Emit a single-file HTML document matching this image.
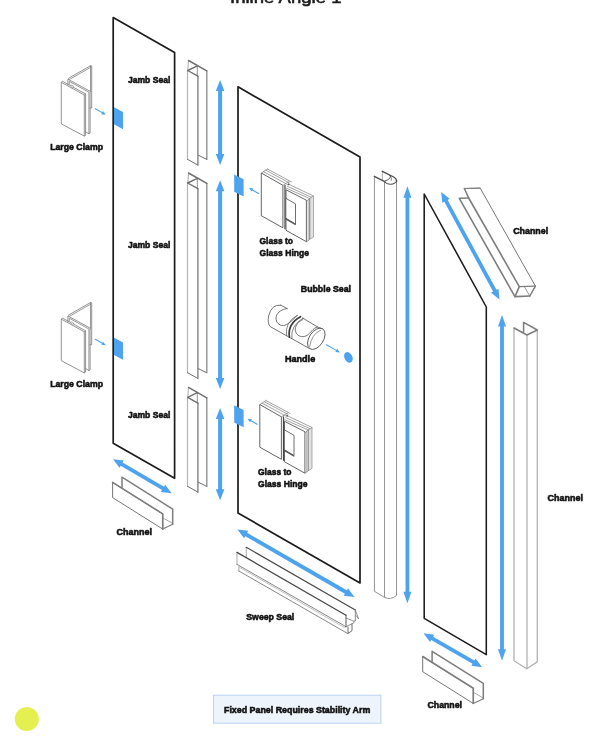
<!DOCTYPE html>
<html><head><meta charset="utf-8"><title>Inline Angle 1</title>
<style>
html,body{margin:0;padding:0;background:#fff;}
body{width:600px;height:736px;overflow:hidden;font-family:"Liberation Sans",sans-serif;}
svg{display:block;}
svg text{font-family:"Liberation Sans",sans-serif;}
</style></head><body>
<svg width="600" height="736" viewBox="0 0 600 736">
<rect width="600" height="736" fill="#fff"/>
<polygon points="113.20,17.50 174.60,52.50 174.60,478.30 113.20,443.30" fill="none" stroke="#1c1c1c" stroke-width="1.7" stroke-linejoin="round" />
<polygon points="238.00,86.80 360.00,157.00 360.00,583.00 238.00,513.00" fill="none" stroke="#1c1c1c" stroke-width="1.7" stroke-linejoin="round" />
<polygon points="424.20,194.00 486.30,307.00 486.30,654.70 424.20,618.30" fill="none" stroke="#1c1c1c" stroke-width="1.55" stroke-linejoin="round" />
<polygon points="114.00,107.20 123.00,112.00 123.00,129.20 114.00,124.30" fill="#4da3ee" stroke="none" stroke-width="1" stroke-linejoin="round" />
<polyline points="95.30,108.70 102.15,112.62" fill="none" stroke="#4da3ee" stroke-width="1.1" stroke-linejoin="round" stroke-linecap="round" />
<polygon points="105.80,114.70 101.26,114.18 103.05,111.05" fill="#4da3ee" stroke="none" stroke-width="1" stroke-linejoin="round" />
<polygon points="114.00,337.80 123.00,342.60 123.00,359.80 114.00,354.90" fill="#4da3ee" stroke="none" stroke-width="1" stroke-linejoin="round" />
<polyline points="95.30,339.30 102.15,343.22" fill="none" stroke="#4da3ee" stroke-width="1.1" stroke-linejoin="round" stroke-linecap="round" />
<polygon points="105.80,345.30 101.26,344.78 103.05,341.65" fill="#4da3ee" stroke="none" stroke-width="1" stroke-linejoin="round" />
<polygon points="234.20,174.50 243.60,179.20 243.60,196.40 234.20,191.80" fill="#4da3ee" stroke="none" stroke-width="1" stroke-linejoin="round" />
<polygon points="234.20,405.30 243.60,410.00 243.60,427.20 234.20,422.60" fill="#4da3ee" stroke="none" stroke-width="1" stroke-linejoin="round" />
<polyline points="258.50,193.50 252.44,190.00" fill="none" stroke="#4da3ee" stroke-width="1.1" stroke-linejoin="round" stroke-linecap="round" />
<polygon points="248.80,187.90 253.34,188.44 251.54,191.56" fill="#4da3ee" stroke="none" stroke-width="1" stroke-linejoin="round" />
<polyline points="257.10,424.30 251.04,420.80" fill="none" stroke="#4da3ee" stroke-width="1.1" stroke-linejoin="round" stroke-linecap="round" />
<polygon points="247.40,418.70 251.94,419.24 250.14,422.36" fill="#4da3ee" stroke="none" stroke-width="1" stroke-linejoin="round" />
<polyline points="68.40,78.40 90.60,65.70 91.70,65.90 91.70,108.00 89.80,108.00" fill="none" stroke="#7f7f7f" stroke-width="0.85" stroke-linejoin="round" stroke-linecap="round" />
<polyline points="69.60,79.40 90.50,67.40" fill="none" stroke="#7f7f7f" stroke-width="0.8" stroke-linejoin="round" stroke-linecap="round" />
<polyline points="90.50,65.90 90.50,91.60" fill="none" stroke="#7f7f7f" stroke-width="0.8" stroke-linejoin="round" stroke-linecap="round" />
<polyline points="67.90,85.00 67.90,79.20 90.10,91.30 90.10,133.10 88.90,133.70 85.60,131.80" fill="none" stroke="#7f7f7f" stroke-width="0.85" stroke-linejoin="round" stroke-linecap="round" />
<polyline points="69.30,84.00 69.30,81.40 88.90,92.20 88.90,133.50" fill="none" stroke="#7f7f7f" stroke-width="0.8" stroke-linejoin="round" stroke-linecap="round" />
<polygon points="61.30,82.30 84.30,95.00 84.30,136.10 61.30,123.90" fill="#fff" stroke="#7f7f7f" stroke-width="0.85" stroke-linejoin="round" />
<polyline points="61.30,82.30 62.50,81.30 85.60,94.00 85.60,135.30 84.30,136.10" fill="none" stroke="#7f7f7f" stroke-width="0.85" stroke-linejoin="round" stroke-linecap="round" />
<polyline points="84.30,95.00 85.60,94.00" fill="none" stroke="#7f7f7f" stroke-width="0.7" stroke-linejoin="round" stroke-linecap="round" />
<ellipse cx="72.0" cy="86.2" rx="1.9" ry="0.8" transform="rotate(28 72.0 86.2)" fill="#fff" stroke="#7f7f7f" stroke-width="0.6"/>
<polyline points="68.40,315.20 90.60,302.50 91.70,302.70 91.70,344.80 89.80,344.80" fill="none" stroke="#7f7f7f" stroke-width="0.85" stroke-linejoin="round" stroke-linecap="round" />
<polyline points="69.60,316.20 90.50,304.20" fill="none" stroke="#7f7f7f" stroke-width="0.8" stroke-linejoin="round" stroke-linecap="round" />
<polyline points="90.50,302.70 90.50,328.40" fill="none" stroke="#7f7f7f" stroke-width="0.8" stroke-linejoin="round" stroke-linecap="round" />
<polyline points="67.90,321.80 67.90,316.00 90.10,328.10 90.10,369.90 88.90,370.50 85.60,368.60" fill="none" stroke="#7f7f7f" stroke-width="0.85" stroke-linejoin="round" stroke-linecap="round" />
<polyline points="69.30,320.80 69.30,318.20 88.90,329.00 88.90,370.30" fill="none" stroke="#7f7f7f" stroke-width="0.8" stroke-linejoin="round" stroke-linecap="round" />
<polygon points="61.30,319.10 84.30,331.80 84.30,372.90 61.30,360.70" fill="#fff" stroke="#7f7f7f" stroke-width="0.85" stroke-linejoin="round" />
<polyline points="61.30,319.10 62.50,318.10 85.60,330.80 85.60,372.10 84.30,372.90" fill="none" stroke="#7f7f7f" stroke-width="0.85" stroke-linejoin="round" stroke-linecap="round" />
<polyline points="84.30,331.80 85.60,330.80" fill="none" stroke="#7f7f7f" stroke-width="0.7" stroke-linejoin="round" stroke-linecap="round" />
<ellipse cx="72.0" cy="323.0" rx="1.9" ry="0.8" transform="rotate(28 72.0 323.0)" fill="#fff" stroke="#7f7f7f" stroke-width="0.6"/>
<polyline points="188.50,60.60 187.80,70.60" fill="none" stroke="#b4b4b4" stroke-width="1.1" stroke-linejoin="round" stroke-linecap="round" />
<polyline points="187.50,70.60 187.50,159.30" fill="none" stroke="#b4b4b4" stroke-width="1.2" stroke-linejoin="round" stroke-linecap="round" />
<polyline points="197.30,65.80 197.30,76.20" fill="none" stroke="#939393" stroke-width="1.0" stroke-linejoin="round" stroke-linecap="round" />
<polyline points="197.90,76.20 197.90,164.90" fill="none" stroke="#939393" stroke-width="1.6" stroke-linejoin="round" stroke-linecap="round" />
<polyline points="206.80,71.00 206.80,159.20" fill="none" stroke="#939393" stroke-width="1.4" stroke-linejoin="round" stroke-linecap="round" />
<polyline points="188.50,60.50 206.80,70.90" fill="none" stroke="#707070" stroke-width="1.5" stroke-linejoin="round" stroke-linecap="round" />
<polyline points="187.70,70.50 197.30,65.80" fill="none" stroke="#707070" stroke-width="1.4" stroke-linejoin="round" stroke-linecap="round" />
<polyline points="187.70,70.50 197.90,76.20" fill="none" stroke="#707070" stroke-width="1.4" stroke-linejoin="round" stroke-linecap="round" />
<polyline points="187.50,159.30 197.90,165.10" fill="none" stroke="#707070" stroke-width="1.0" stroke-linejoin="round" stroke-linecap="round" />
<polyline points="198.30,155.20 206.80,159.40" fill="none" stroke="#707070" stroke-width="1.0" stroke-linejoin="round" stroke-linecap="round" />
<polyline points="188.50,173.10 187.80,183.10" fill="none" stroke="#b4b4b4" stroke-width="1.1" stroke-linejoin="round" stroke-linecap="round" />
<polyline points="187.50,183.10 187.50,372.70" fill="none" stroke="#b4b4b4" stroke-width="1.2" stroke-linejoin="round" stroke-linecap="round" />
<polyline points="197.30,178.30 197.30,188.70" fill="none" stroke="#939393" stroke-width="1.0" stroke-linejoin="round" stroke-linecap="round" />
<polyline points="197.90,188.70 197.90,378.30" fill="none" stroke="#939393" stroke-width="1.6" stroke-linejoin="round" stroke-linecap="round" />
<polyline points="206.80,183.50 206.80,372.60" fill="none" stroke="#939393" stroke-width="1.4" stroke-linejoin="round" stroke-linecap="round" />
<polyline points="188.50,173.00 206.80,183.40" fill="none" stroke="#707070" stroke-width="1.5" stroke-linejoin="round" stroke-linecap="round" />
<polyline points="187.70,183.00 197.30,178.30" fill="none" stroke="#707070" stroke-width="1.4" stroke-linejoin="round" stroke-linecap="round" />
<polyline points="187.70,183.00 197.90,188.70" fill="none" stroke="#707070" stroke-width="1.4" stroke-linejoin="round" stroke-linecap="round" />
<polyline points="187.50,372.70 197.90,378.50" fill="none" stroke="#707070" stroke-width="1.0" stroke-linejoin="round" stroke-linecap="round" />
<polyline points="198.30,368.60 206.80,372.80" fill="none" stroke="#707070" stroke-width="1.0" stroke-linejoin="round" stroke-linecap="round" />
<polyline points="188.50,387.50 187.80,397.50" fill="none" stroke="#b4b4b4" stroke-width="1.1" stroke-linejoin="round" stroke-linecap="round" />
<polyline points="187.50,397.50 187.50,486.30" fill="none" stroke="#b4b4b4" stroke-width="1.2" stroke-linejoin="round" stroke-linecap="round" />
<polyline points="197.30,392.70 197.30,403.10" fill="none" stroke="#939393" stroke-width="1.0" stroke-linejoin="round" stroke-linecap="round" />
<polyline points="197.90,403.10 197.90,491.90" fill="none" stroke="#939393" stroke-width="1.6" stroke-linejoin="round" stroke-linecap="round" />
<polyline points="206.80,397.90 206.80,486.20" fill="none" stroke="#939393" stroke-width="1.4" stroke-linejoin="round" stroke-linecap="round" />
<polyline points="188.50,387.40 206.80,397.80" fill="none" stroke="#707070" stroke-width="1.5" stroke-linejoin="round" stroke-linecap="round" />
<polyline points="187.70,397.40 197.30,392.70" fill="none" stroke="#707070" stroke-width="1.4" stroke-linejoin="round" stroke-linecap="round" />
<polyline points="187.70,397.40 197.90,403.10" fill="none" stroke="#707070" stroke-width="1.4" stroke-linejoin="round" stroke-linecap="round" />
<polyline points="187.50,486.30 197.90,492.10" fill="none" stroke="#707070" stroke-width="1.0" stroke-linejoin="round" stroke-linecap="round" />
<polyline points="198.30,482.20 206.80,486.40" fill="none" stroke="#707070" stroke-width="1.0" stroke-linejoin="round" stroke-linecap="round" />
<polygon points="220.10,80.00 215.80,91.00 218.10,91.00 218.10,154.00 215.80,154.00 220.10,165.00 224.40,154.00 222.10,154.00 222.10,91.00 224.40,91.00" fill="#4da3ee" stroke="none" stroke-width="1" stroke-linejoin="round" />
<polygon points="220.10,180.30 215.80,191.30 218.10,191.30 218.10,378.10 215.80,378.10 220.10,389.10 224.40,378.10 222.10,378.10 222.10,191.30 224.40,191.30" fill="#4da3ee" stroke="none" stroke-width="1" stroke-linejoin="round" />
<polygon points="220.10,408.00 215.80,419.00 218.10,419.00 218.10,489.20 215.80,489.20 220.10,500.20 224.40,489.20 222.10,489.20 222.10,419.00 224.40,419.00" fill="#4da3ee" stroke="none" stroke-width="1" stroke-linejoin="round" />
<polyline points="122.00,487.40 122.00,477.20 172.70,509.06 172.70,524.26" fill="none" stroke="#7d7d7d" stroke-width="1.5" stroke-linejoin="round" stroke-linecap="round" />
<polyline points="162.70,529.06 172.70,524.26" fill="none" stroke="#7d7d7d" stroke-width="1.2" stroke-linejoin="round" stroke-linecap="round" />
<polyline points="163.50,518.26 172.30,523.36" fill="none" stroke="#7d7d7d" stroke-width="0.7" stroke-linejoin="round" stroke-linecap="round" />
<polygon points="112.60,482.40 162.70,513.86 162.70,529.06 112.60,497.60" fill="#fff" stroke="#4a4a4a" stroke-width="0.75" stroke-linejoin="round" />
<polyline points="112.60,482.40 162.70,513.86 162.70,529.06" fill="none" stroke="#7d7d7d" stroke-width="1.6" stroke-linejoin="round" stroke-linecap="round" />
<polyline points="432.10,661.50 432.10,651.30 483.30,683.48 483.30,698.68" fill="none" stroke="#7d7d7d" stroke-width="1.5" stroke-linejoin="round" stroke-linecap="round" />
<polyline points="473.30,703.48 483.30,698.68" fill="none" stroke="#7d7d7d" stroke-width="1.2" stroke-linejoin="round" stroke-linecap="round" />
<polyline points="474.10,692.68 482.90,697.78" fill="none" stroke="#7d7d7d" stroke-width="0.7" stroke-linejoin="round" stroke-linecap="round" />
<polygon points="422.70,656.50 473.30,688.28 473.30,703.48 422.70,671.70" fill="#fff" stroke="#4a4a4a" stroke-width="0.75" stroke-linejoin="round" />
<polyline points="422.70,656.50 473.30,688.28 473.30,703.48" fill="none" stroke="#7d7d7d" stroke-width="1.6" stroke-linejoin="round" stroke-linecap="round" />
<polygon points="113.00,459.20 119.54,467.85 120.69,465.87 162.10,489.92 160.94,491.91 171.70,493.30 165.16,484.65 164.01,486.63 122.60,462.58 123.76,460.59" fill="#4da3ee" stroke="none" stroke-width="1" stroke-linejoin="round" />
<polygon points="423.50,633.30 430.05,641.94 431.20,639.95 472.49,663.84 471.34,665.83 482.10,667.20 475.55,658.56 474.40,660.55 433.11,636.66 434.26,634.67" fill="#4da3ee" stroke="none" stroke-width="1" stroke-linejoin="round" />
<polyline points="246.30,557.60 246.30,547.30" fill="none" stroke="#b0b0b0" stroke-width="1.1" stroke-linejoin="round" stroke-linecap="round" />
<polyline points="246.30,547.30 355.30,610.00" fill="none" stroke="#484848" stroke-width="1.2" stroke-linejoin="round" stroke-linecap="round" />
<polyline points="355.30,610.00 355.30,620.70" fill="none" stroke="#7a7a7a" stroke-width="0.9" stroke-linejoin="round" stroke-linecap="round" />
<polyline points="355.30,610.00 358.70,619.00 356.20,615.60" fill="none" stroke="#7a7a7a" stroke-width="0.8" stroke-linejoin="round" stroke-linecap="round" />
<polygon points="237.00,552.40 346.00,615.30 346.00,626.70 237.00,564.40" fill="#fff" stroke="none" stroke-width="1" stroke-linejoin="round" />
<polyline points="237.00,552.40 237.00,564.40" fill="none" stroke="#b0b0b0" stroke-width="1.1" stroke-linejoin="round" stroke-linecap="round" />
<polyline points="237.00,564.40 346.00,626.70" fill="none" stroke="#7a7a7a" stroke-width="0.9" stroke-linejoin="round" stroke-linecap="round" />
<polyline points="346.00,615.30 346.00,626.70" fill="none" stroke="#484848" stroke-width="0.9" stroke-linejoin="round" stroke-linecap="round" />
<polyline points="237.00,552.40 346.00,615.30" fill="none" stroke="#484848" stroke-width="1.3" stroke-linejoin="round" stroke-linecap="round" />
<polyline points="346.00,618.00 354.00,621.30 355.30,620.70" fill="none" stroke="#7a7a7a" stroke-width="0.8" stroke-linejoin="round" stroke-linecap="round" />
<polyline points="346.00,626.70 354.00,622.70 354.00,621.30" fill="none" stroke="#7a7a7a" stroke-width="0.8" stroke-linejoin="round" stroke-linecap="round" />
<polyline points="238.90,565.60 238.90,571.00" fill="none" stroke="#b0b0b0" stroke-width="1.1" stroke-linejoin="round" stroke-linecap="round" />
<polyline points="238.90,571.00 347.60,633.50" fill="none" stroke="#7a7a7a" stroke-width="0.9" stroke-linejoin="round" stroke-linecap="round" />
<polyline points="239.50,567.30 344.50,627.60" fill="none" stroke="#b0b0b0" stroke-width="0.8" stroke-linejoin="round" stroke-linecap="round" />
<polyline points="348.00,626.90 348.00,633.40 352.00,630.70 352.00,624.00" fill="none" stroke="#484848" stroke-width="0.8" stroke-linejoin="round" stroke-linecap="round" />
<polygon points="237.50,529.50 244.06,538.14 245.21,536.14 344.89,593.65 343.74,595.64 354.50,597.00 347.94,588.36 346.79,590.36 247.11,532.85 248.26,530.86" fill="#4da3ee" stroke="none" stroke-width="1" stroke-linejoin="round" />
<path d="M374.4,176.3 L374.4,591.3 L384.5,597.3" fill="none" stroke="#949494" stroke-width="1.0" stroke-linejoin="round" stroke-linecap="round"/>
<path d="M384.5,181.7 L384.5,597.3 Q390.5,600.4 396.5,595.5 L396.5,180.8" fill="none" stroke="#949494" stroke-width="1.0" stroke-linejoin="round" stroke-linecap="round"/>
<path d="M382.3,171.5 L382.3,179.9" fill="none" stroke="#aaaaaa" stroke-width="1.0" stroke-linejoin="round" stroke-linecap="round"/>
<path d="M374.3,176.3 L384.7,181.7" fill="none" stroke="#4c4c4c" stroke-width="1.3" stroke-linejoin="round" stroke-linecap="round"/>
<path d="M382.3,171.3 L393.7,177 Q396.5,178.4 396.6,181.2" fill="none" stroke="#4c4c4c" stroke-width="1.3" stroke-linejoin="round" stroke-linecap="round"/>
<path d="M384.7,181.7 Q386.6,184.4 390.6,184.2 Q395.6,183.8 396.6,180.8" fill="none" stroke="#4c4c4c" stroke-width="1.1" stroke-linejoin="round" stroke-linecap="round"/>
<path d="M384.9,181.0 Q389.2,180.2 390.4,177.0 Q390.8,175.9 390.2,175.4" fill="none" stroke="#4c4c4c" stroke-width="0.9" stroke-linejoin="round" stroke-linecap="round"/>
<path d="M389.6,175.2 Q392.2,177.6 391.4,180.4" fill="none" stroke="#4c4c4c" stroke-width="0.7" stroke-linejoin="round" stroke-linecap="round"/>
<polygon points="407.40,186.20 403.40,197.70 405.50,197.70 405.50,591.80 403.40,591.80 407.40,603.30 411.40,591.80 409.30,591.80 409.30,197.70 411.40,197.70" fill="#4da3ee" stroke="none" stroke-width="1" stroke-linejoin="round" />
<polygon points="441.20,192.00 442.28,202.79 444.30,201.70 493.06,291.62 491.04,292.71 499.50,299.50 498.42,288.71 496.40,289.80 447.64,199.88 449.66,198.79" fill="#4da3ee" stroke="none" stroke-width="1" stroke-linejoin="round" />
<polygon points="502.00,315.00 498.00,326.50 500.10,326.50 500.10,649.30 498.00,649.30 502.00,660.80 506.00,649.30 503.90,649.30 503.90,326.50 506.00,326.50" fill="#4da3ee" stroke="none" stroke-width="1" stroke-linejoin="round" />
<polyline points="464.40,188.50 480.20,188.10 535.40,286.10 529.80,296.00" fill="none" stroke="#4a4a4a" stroke-width="0.75" stroke-linejoin="round" stroke-linecap="round" />
<polyline points="464.40,188.50 480.20,188.10" fill="none" stroke="#7d7d7d" stroke-width="0.9" stroke-linejoin="round" stroke-linecap="round" />
<polyline points="519.30,286.60 535.40,286.10" fill="none" stroke="#7d7d7d" stroke-width="1.3" stroke-linejoin="round" stroke-linecap="round" />
<polyline points="524.70,287.30 529.80,296.00" fill="none" stroke="#7d7d7d" stroke-width="0.8" stroke-linejoin="round" stroke-linecap="round" />
<polyline points="464.40,188.50 468.70,198.00 519.30,286.60 514.90,296.60" fill="none" stroke="#7d7d7d" stroke-width="1.6" stroke-linejoin="round" stroke-linecap="round" />
<polyline points="468.70,198.00 459.30,198.30 514.90,296.60 529.80,296.00" fill="none" stroke="#7d7d7d" stroke-width="1.6" stroke-linejoin="round" stroke-linecap="round" />
<polyline points="535.40,286.10 529.80,296.00" fill="none" stroke="#7d7d7d" stroke-width="1.3" stroke-linejoin="round" stroke-linecap="round" />
<polyline points="514.00,328.00 514.00,660.80 526.70,668.80 537.30,661.90 537.30,330.00" fill="none" stroke="#b2b2b2" stroke-width="1.3" stroke-linejoin="round" stroke-linecap="round" />
<polyline points="527.00,335.00 527.00,668.60" fill="none" stroke="#b2b2b2" stroke-width="1.3" stroke-linejoin="round" stroke-linecap="round" />
<polyline points="514.00,328.00 527.00,335.00 537.30,330.00 523.60,322.40 523.60,333.00" fill="none" stroke="#7d7d7d" stroke-width="1.5" stroke-linejoin="round" stroke-linecap="round" />
<polyline points="267.50,169.00 291.40,181.90" fill="none" stroke="#7d7d7d" stroke-width="0.7" stroke-linejoin="round" stroke-linecap="round" />
<polyline points="265.70,170.10 289.60,183.00" fill="none" stroke="#7d7d7d" stroke-width="0.7" stroke-linejoin="round" stroke-linecap="round" />
<polyline points="263.50,171.60 287.40,184.50" fill="none" stroke="#7d7d7d" stroke-width="0.7" stroke-linejoin="round" stroke-linecap="round" />
<polyline points="261.30,173.20 267.50,169.00" fill="none" stroke="#7d7d7d" stroke-width="0.7" stroke-linejoin="round" stroke-linecap="round" />
<polyline points="282.90,185.30 289.00,181.60" fill="none" stroke="#7d7d7d" stroke-width="0.7" stroke-linejoin="round" stroke-linecap="round" />
<polygon points="309.70,198.30 313.50,196.00 313.50,237.00 309.70,239.30" fill="#e2e2e2" stroke="#7d7d7d" stroke-width="0.6" stroke-linejoin="round" />
<polyline points="306.60,201.20 309.70,198.30 309.70,239.30 306.60,241.60" fill="none" stroke="#7d7d7d" stroke-width="0.7" stroke-linejoin="round" stroke-linecap="round" />
<polyline points="308.20,199.80 308.20,240.40" fill="none" stroke="#7d7d7d" stroke-width="0.6" stroke-linejoin="round" stroke-linecap="round" />
<polyline points="288.30,184.00 313.50,196.00" fill="none" stroke="#7d7d7d" stroke-width="0.7" stroke-linejoin="round" stroke-linecap="round" />
<polyline points="287.30,186.20 311.60,197.30" fill="none" stroke="#7d7d7d" stroke-width="0.7" stroke-linejoin="round" stroke-linecap="round" />
<polyline points="286.30,188.20 309.70,198.50" fill="none" stroke="#7d7d7d" stroke-width="0.7" stroke-linejoin="round" stroke-linecap="round" />
<polygon points="261.30,173.00 282.90,185.30 282.90,227.80 261.30,215.70" fill="#fff" stroke="#4a4a4a" stroke-width="0.85" stroke-linejoin="round" />
<polyline points="285.00,185.40 285.00,228.80" fill="none" stroke="#444" stroke-width="1.2" stroke-linejoin="round" stroke-linecap="round" />
<polygon points="286.00,189.80 306.40,200.20 306.40,241.70 286.00,230.30" fill="#fff" stroke="#4a4a4a" stroke-width="0.85" stroke-linejoin="round" />
<polygon points="285.80,198.30 295.50,203.80 295.50,224.00 285.80,218.20" fill="#fff" stroke="#4a4a4a" stroke-width="0.8" stroke-linejoin="round" />
<polyline points="285.80,218.90 295.30,224.50" fill="none" stroke="#555" stroke-width="1.3" stroke-linejoin="round" stroke-linecap="round" />
<circle cx="288.6" cy="184.3" r="0.9" fill="#555"/>
<polyline points="266.00,400.50 289.90,413.40" fill="none" stroke="#7d7d7d" stroke-width="0.7" stroke-linejoin="round" stroke-linecap="round" />
<polyline points="264.20,401.60 288.10,414.50" fill="none" stroke="#7d7d7d" stroke-width="0.7" stroke-linejoin="round" stroke-linecap="round" />
<polyline points="262.00,403.10 285.90,416.00" fill="none" stroke="#7d7d7d" stroke-width="0.7" stroke-linejoin="round" stroke-linecap="round" />
<polyline points="259.80,404.70 266.00,400.50" fill="none" stroke="#7d7d7d" stroke-width="0.7" stroke-linejoin="round" stroke-linecap="round" />
<polyline points="281.40,416.80 287.50,413.10" fill="none" stroke="#7d7d7d" stroke-width="0.7" stroke-linejoin="round" stroke-linecap="round" />
<polygon points="308.20,429.80 312.00,427.50 312.00,468.50 308.20,470.80" fill="#e2e2e2" stroke="#7d7d7d" stroke-width="0.6" stroke-linejoin="round" />
<polyline points="305.10,432.70 308.20,429.80 308.20,470.80 305.10,473.10" fill="none" stroke="#7d7d7d" stroke-width="0.7" stroke-linejoin="round" stroke-linecap="round" />
<polyline points="306.70,431.30 306.70,471.90" fill="none" stroke="#7d7d7d" stroke-width="0.6" stroke-linejoin="round" stroke-linecap="round" />
<polyline points="286.80,415.50 312.00,427.50" fill="none" stroke="#7d7d7d" stroke-width="0.7" stroke-linejoin="round" stroke-linecap="round" />
<polyline points="285.80,417.70 310.10,428.80" fill="none" stroke="#7d7d7d" stroke-width="0.7" stroke-linejoin="round" stroke-linecap="round" />
<polyline points="284.80,419.70 308.20,430.00" fill="none" stroke="#7d7d7d" stroke-width="0.7" stroke-linejoin="round" stroke-linecap="round" />
<polygon points="259.80,404.50 281.40,416.80 281.40,459.30 259.80,447.20" fill="#fff" stroke="#4a4a4a" stroke-width="0.85" stroke-linejoin="round" />
<polyline points="283.50,416.90 283.50,460.30" fill="none" stroke="#444" stroke-width="1.2" stroke-linejoin="round" stroke-linecap="round" />
<polygon points="284.50,421.30 304.90,431.70 304.90,473.20 284.50,461.80" fill="#fff" stroke="#4a4a4a" stroke-width="0.85" stroke-linejoin="round" />
<polygon points="284.30,429.80 294.00,435.30 294.00,455.50 284.30,449.70" fill="#fff" stroke="#4a4a4a" stroke-width="0.8" stroke-linejoin="round" />
<polyline points="284.30,450.40 293.80,456.00" fill="none" stroke="#555" stroke-width="1.3" stroke-linejoin="round" stroke-linecap="round" />
<circle cx="287.1" cy="415.8" r="0.9" fill="#555"/>
<path d="M280.7,305.2 Q271.5,304 268.6,316 Q267.2,323 270.2,326.6 L309.8,348.7" fill="none" stroke="#505050" stroke-width="0.8" stroke-linejoin="round" stroke-linecap="round"/>
<path d="M280.7,305.2 L287.1,308.5" fill="none" stroke="#505050" stroke-width="0.8" stroke-linejoin="round" stroke-linecap="round"/>
<path d="M302.3,317.8 L318,327.2 L322.7,328.9" fill="none" stroke="#505050" stroke-width="0.8" stroke-linejoin="round" stroke-linecap="round"/>
<path d="M287.1,308.5 C282.3,309.2 277.6,311.8 276.3,316.2 C275.2,321 277.8,324.6 281.6,325.4 C286.2,326.2 290.2,322.6 297.3,315.4" fill="none" stroke="#505050" stroke-width="0.8" stroke-linejoin="round" stroke-linecap="round"/>
<path d="M302.8,319.6 C298.5,321.6 295.6,325 295.3,329 C295.2,333.2 297.8,336 301.5,336.6 C306,337.2 309.2,334 311.6,331 C313.6,328.8 315.2,327.6 317.4,327.0" fill="none" stroke="#505050" stroke-width="0.8" stroke-linejoin="round" stroke-linecap="round"/>
<path d="M297.2,315.3 Q284.3,322.5 286.6,335.6" fill="none" stroke="#505050" stroke-width="0.7" stroke-linejoin="round" stroke-linecap="round"/>
<path d="M300.5,316.7 Q287.4,323.8 289.4,337.1" fill="none" stroke="#3a3a3a" stroke-width="1.7" stroke-linejoin="round" stroke-linecap="round"/>
<path d="M303.0,318.2 Q290.3,325.6 291.8,338.5" fill="none" stroke="#505050" stroke-width="0.7" stroke-linejoin="round" stroke-linecap="round"/>
<ellipse cx="316.3" cy="338.8" rx="11.8" ry="7.1" transform="rotate(-57 316.3 338.8)" fill="#fff" stroke="#505050" stroke-width="0.85"/>
<path d="M320.6,330.2 Q311.5,334 309.6,346.8" fill="none" stroke="#505050" stroke-width="0.6" stroke-linejoin="round" stroke-linecap="round"/>
<polyline points="326.50,344.70 336.27,350.39" fill="none" stroke="#4da3ee" stroke-width="1.1" stroke-linejoin="round" stroke-linecap="round" />
<polygon points="339.90,352.50 335.36,351.94 337.18,348.83" fill="#4da3ee" stroke="none" stroke-width="1" stroke-linejoin="round" />
<ellipse cx="348.4" cy="357.4" rx="3.9" ry="5.6" transform="rotate(-28 348.4 357.4)" fill="#4da3ee"/>
<rect x="213.5" y="695.2" width="167.4" height="28" fill="#eef4fc" stroke="#b9d3f1" stroke-width="1"/>
<g style="filter:grayscale(1)">
<text x="230.0" y="3.0" font-size="16.5" font-weight="normal" text-anchor="start" fill="#1a1a1a" stroke="#1a1a1a" stroke-width="0.55" stroke-linejoin="round" textLength="111.5" lengthAdjust="spacingAndGlyphs">Inline Angle 1</text>
<text x="50.2" y="150.3" font-size="9.9" font-weight="bold" text-anchor="start" fill="#111" stroke="#111" stroke-width="0.6" stroke-linejoin="round" textLength="52.8" lengthAdjust="spacingAndGlyphs">Large Clamp</text>
<text x="50.2" y="386.8" font-size="9.9" font-weight="bold" text-anchor="start" fill="#111" stroke="#111" stroke-width="0.6" stroke-linejoin="round" textLength="52.8" lengthAdjust="spacingAndGlyphs">Large Clamp</text>
<text x="128.0" y="82.5" font-size="9.9" font-weight="bold" text-anchor="start" fill="#111" stroke="#111" stroke-width="0.6" stroke-linejoin="round" textLength="42.3" lengthAdjust="spacingAndGlyphs">Jamb Seal</text>
<text x="128.0" y="248.3" font-size="9.9" font-weight="bold" text-anchor="start" fill="#111" stroke="#111" stroke-width="0.6" stroke-linejoin="round" textLength="42.3" lengthAdjust="spacingAndGlyphs">Jamb Seal</text>
<text x="128.0" y="418.3" font-size="9.9" font-weight="bold" text-anchor="start" fill="#111" stroke="#111" stroke-width="0.6" stroke-linejoin="round" textLength="42.3" lengthAdjust="spacingAndGlyphs">Jamb Seal</text>
<text x="116.6" y="534.6" font-size="9.9" font-weight="bold" text-anchor="start" fill="#111" stroke="#111" stroke-width="0.6" stroke-linejoin="round" textLength="35.4" lengthAdjust="spacingAndGlyphs">Channel</text>
<text x="259.5" y="244.3" font-size="9.9" font-weight="bold" text-anchor="start" fill="#111" stroke="#111" stroke-width="0.6" stroke-linejoin="round" textLength="33.5" lengthAdjust="spacingAndGlyphs">Glass to</text>
<text x="259.5" y="256.0" font-size="9.9" font-weight="bold" text-anchor="start" fill="#111" stroke="#111" stroke-width="0.6" stroke-linejoin="round" textLength="49.5" lengthAdjust="spacingAndGlyphs">Glass Hinge</text>
<text x="258.0" y="475.3" font-size="9.9" font-weight="bold" text-anchor="start" fill="#111" stroke="#111" stroke-width="0.6" stroke-linejoin="round" textLength="33.5" lengthAdjust="spacingAndGlyphs">Glass to</text>
<text x="258.0" y="487.0" font-size="9.9" font-weight="bold" text-anchor="start" fill="#111" stroke="#111" stroke-width="0.6" stroke-linejoin="round" textLength="49.5" lengthAdjust="spacingAndGlyphs">Glass Hinge</text>
<text x="300.8" y="291.5" font-size="9.9" font-weight="bold" text-anchor="start" fill="#111" stroke="#111" stroke-width="0.6" stroke-linejoin="round" textLength="50.2" lengthAdjust="spacingAndGlyphs">Bubble Seal</text>
<text x="284.9" y="362.2" font-size="9.9" font-weight="bold" text-anchor="start" fill="#111" stroke="#111" stroke-width="0.6" stroke-linejoin="round" textLength="30.3" lengthAdjust="spacingAndGlyphs">Handle</text>
<text x="246.3" y="619.8" font-size="9.9" font-weight="bold" text-anchor="start" fill="#111" stroke="#111" stroke-width="0.6" stroke-linejoin="round" textLength="48.0" lengthAdjust="spacingAndGlyphs">Sweep Seal</text>
<text x="513.2" y="234.4" font-size="9.9" font-weight="bold" text-anchor="start" fill="#111" stroke="#111" stroke-width="0.6" stroke-linejoin="round" textLength="35.0" lengthAdjust="spacingAndGlyphs">Channel</text>
<text x="547.6" y="501.2" font-size="9.9" font-weight="bold" text-anchor="start" fill="#111" stroke="#111" stroke-width="0.6" stroke-linejoin="round" textLength="35.3" lengthAdjust="spacingAndGlyphs">Channel</text>
<text x="427.5" y="708.0" font-size="9.9" font-weight="bold" text-anchor="start" fill="#111" stroke="#111" stroke-width="0.6" stroke-linejoin="round" textLength="34.5" lengthAdjust="spacingAndGlyphs">Channel</text>
<text x="224.0" y="713.0" font-size="9.8" font-weight="bold" text-anchor="start" fill="#111" stroke="#111" stroke-width="0.6" stroke-linejoin="round" textLength="146.3" lengthAdjust="spacingAndGlyphs">Fixed Panel Requires Stability Arm</text>
</g>
<circle cx="26.8" cy="719" r="12" fill="#e4f04f"/>
</svg>
</body></html>
